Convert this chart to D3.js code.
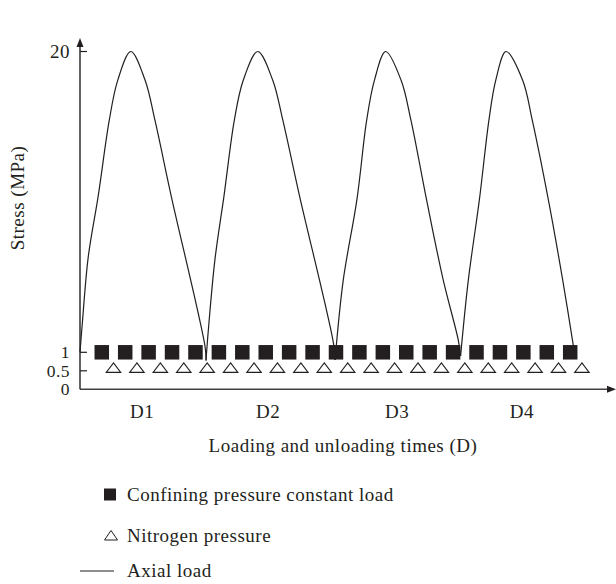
<!DOCTYPE html>
<html><head><meta charset="utf-8">
<script src="https://cdn.jsdelivr.net/npm/d3@7"></script>
<style>
body{margin:0;background:#fff;}
svg text{font-family:"Liberation Serif","DejaVu Serif",serif;fill:#231f20;letter-spacing:0.5px;}
</style></head>
<body><div id="chart"></div>
<script>
// ---- data ----
const yTicks = [0, 0.5, 1, 20];
const yTickLabels = ["0", "0.5", "1", "20"];
const cycleLabels = ["D1", "D2", "D3", "D4"];
const cycleLabelX = [2.65, 8.03, 13.54, 18.87];

// Confining pressure constant load (1 MPa)
const confiningX = [0.93,1.93,2.93,3.93,4.93,5.93,6.93,7.93,8.93,9.93,10.93,11.93,12.93,13.93,14.93,15.93,16.93,17.93,18.93,19.93,20.93];
const confiningY = [1,1,1,1,1,1,1,1,1,1,1,1,1,1,1,1,1,1,1,1,1];
// Nitrogen pressure (0.5 MPa)
const nitrogenX = [1.43,2.43,3.43,4.43,5.43,6.43,7.43,8.43,9.43,10.43,11.43,12.43,13.43,14.43,15.43,16.43,17.43,18.43,19.43,20.43,21.43];
const nitrogenY = [0.5,0.5,0.5,0.5,0.5,0.5,0.5,0.5,0.5,0.5,0.5,0.5,0.5,0.5,0.5,0.5,0.5,0.5,0.5,0.5,0.5];
// Axial load, one array per loading/unloading cycle
const axial1X = [0, 0.10, 0.35, 0.78, 1.25, 1.61, 2.17, 2.78, 3.20, 3.89, 5.34, 5.38];
const axial1Y = [1, 2.85, 7.0, 10.9, 15.66, 18.18, 20, 18.18, 15.66, 10.9, 1.35, 0.78];
const axial2X = [5.38, 5.48, 5.76, 6.15, 6.59, 6.97, 7.59, 8.23, 8.66, 9.37, 10.82, 10.89];
const axial2Y = [0.78, 2.41, 6.84, 10.9, 15.66, 18.18, 20, 18.18, 15.66, 10.9, 1.59, 0.79];
const axial3X = [10.89, 11.24, 11.82, 12.24, 12.57, 13.05, 13.71, 14.13, 14.80, 15.51, 16.15, 16.25];
const axial3Y = [0.79, 5.56, 10.61, 15.66, 18.18, 20, 18.18, 15.66, 10.61, 5.56, 1.78, 0.9];
const axial4X = [16.25, 16.58, 17.05, 17.46, 17.75, 18.19, 18.90, 19.31, 20.00, 20.61, 21.11];
const axial4Y = [0.9, 5.56, 10.61, 15.66, 18.18, 20, 18.18, 15.66, 10.61, 5.56, 1];

const legendItems = ["Confining pressure constant load", "Nitrogen pressure", "Axial load"];

// ---- chart ----
const W = 616, H = 584;
const svg = d3.select("#chart").append("svg").attr("width", W).attr("height", H);

const x = d3.scaleLinear().domain([0, 22.8]).range([80, 614]);
const y = d3.scaleLinear().domain([0, 1, 20]).range([389.3, 352.3, 51.5]);

const ink = "#231f20";
const fs = 19;

// axes
svg.append("line").attr("x1", x(0)).attr("x2", 609).attr("y1", y(0)).attr("y2", y(0))
  .attr("stroke", ink).attr("stroke-width", 1.5).attr("stroke-opacity", 0.85);
svg.append("path").attr("d", `M616,${y(0)} L607,${y(0)-3.5} L607,${y(0)+3.5} Z`).attr("fill", ink);
svg.append("line").attr("x1", x(0)).attr("x2", x(0)).attr("y1", y(0)).attr("y2", 46)
  .attr("stroke", ink).attr("stroke-width", 1.4);
svg.append("path").attr("d", `M${x(0)},38 L${x(0)-3.5},47 L${x(0)+3.5},47 Z`).attr("fill", ink);

// y ticks (inward)
yTicks.forEach((t, i) => {
  if (t !== 0) {
    svg.append("line").attr("x1", x(0)).attr("x2", x(0) + 7).attr("y1", y(t)).attr("y2", y(t))
      .attr("stroke", ink).attr("stroke-width", 1.2);
  }
  svg.append("text").attr("x", 70).attr("y", y(t)).attr("dy", "0.33em")
    .attr("text-anchor", "end").attr("font-size", t === 20 ? fs : 17.5).text(yTickLabels[i]);
});

// axial load (line)
const line = d3.line().x(d => x(d[0])).y(d => y(d[1])).curve(d3.curveCatmullRom.alpha(0.5));
[[axial1X, axial1Y], [axial2X, axial2Y], [axial3X, axial3Y], [axial4X, axial4Y]].forEach(([xs, ys]) => {
  svg.append("path").datum(xs.map((v, i) => [v, ys[i]]))
    .attr("d", line).attr("fill", "none").attr("stroke", ink).attr("stroke-width", 1.2);
});

// nitrogen triangles
const triW = 14.5, triH = 9.5;
const triPath = `M0,${-triH*0.62} L${triW/2},${triH*0.38} L${-triW/2},${triH*0.38} Z`;
svg.selectAll(".tri").data(nitrogenX.map((v, i) => [v, nitrogenY[i]])).enter().append("path")
  .attr("transform", d => `translate(${x(d[0])},${y(d[1]) - 2})`)
  .attr("d", triPath).attr("fill", "#fff").attr("stroke", ink).attr("stroke-width", 1.1);

// confining squares
const sq = 14.5;
svg.selectAll(".sq").data(confiningX.map((v, i) => [v, confiningY[i]])).enter().append("rect")
  .attr("x", d => x(d[0]) - sq/2).attr("y", d => y(d[1]) - sq/2)
  .attr("width", sq).attr("height", sq).attr("fill", ink);

// cycle labels
cycleLabels.forEach((l, i) => {
  svg.append("text").attr("x", x(cycleLabelX[i])).attr("y", 418).attr("text-anchor", "middle")
    .attr("font-size", fs).text(l);
});

// axis titles
svg.append("text").attr("x", 343).attr("y", 452).attr("text-anchor", "middle")
  .attr("font-size", fs).text("Loading and unloading times (D)");
svg.append("text").attr("transform", "translate(24,198) rotate(-90)").attr("text-anchor", "middle")
  .attr("font-size", fs).attr("letter-spacing", "0.9px").text("Stress (MPa)");

// legend
const legY = [494, 535, 570];
svg.append("rect").attr("x", 104).attr("y", legY[0] - 5.5).attr("width", 12).attr("height", 12).attr("fill", ink);
svg.append("path").attr("transform", `translate(111,${legY[1] + 1})`)
  .attr("d", `M0,-5.5 L6.5,4 L-6.5,4 Z`).attr("fill", "#fff").attr("stroke", ink).attr("stroke-width", 1);
svg.append("line").attr("x1", 80).attr("x2", 114).attr("y1", legY[2] + 1).attr("y2", legY[2] + 1)
  .attr("stroke", ink).attr("stroke-width", 1.2);
legendItems.forEach((t, i) => {
  svg.append("text").attr("x", 127).attr("y", legY[i]).attr("dy", "0.35em")
    .attr("font-size", fs).text(t);
});
</script></body></html>
